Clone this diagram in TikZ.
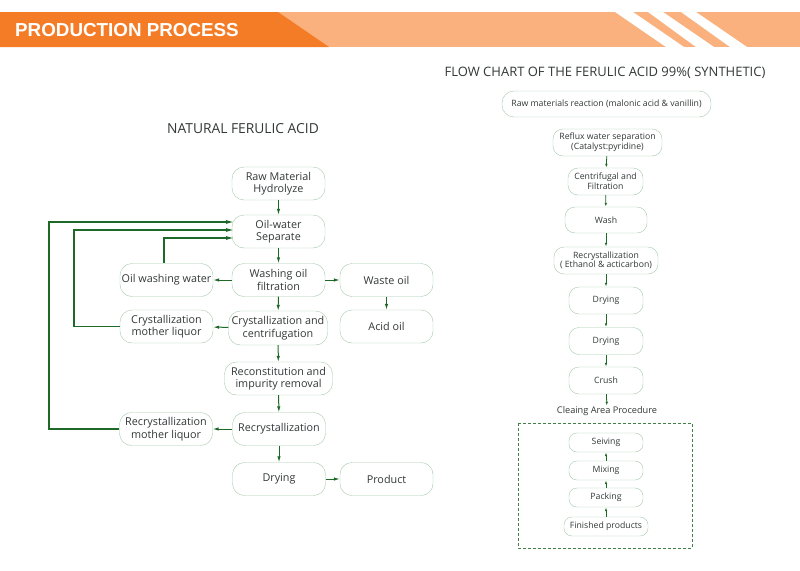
\documentclass[tikz,border=0pt]{standalone}
\usepackage{fontspec}
\setmainfont{Open Sans}
\newfontfamily\headfont{Liberation Sans}
\usetikzlibrary{arrows.meta}

\definecolor{hdark}{RGB}{245,124,38}
\definecolor{hlight}{RGB}{250,177,125}
\definecolor{lnk}{RGB}{30,105,40}
\definecolor{rim}{RGB}{165,200,170}
\definecolor{txt}{RGB}{50,55,55}

\tikzset{
  box/.style={draw=rim, rounded corners=12pt, minimum width=93pt, minimum height=33pt,
    inner sep=1pt, align=center, text=txt, font=\fontsize{10.8}{12.5}\selectfont},
  sbox/.style={draw=rim, rounded corners=10pt, minimum width=74pt, minimum height=26pt,
    inner sep=1pt, align=center, text=txt, font=\fontsize{8.7}{9.6}\selectfont},
  cbox/.style={sbox, rounded corners=8pt, minimum height=19pt},
  arr/.style={draw=lnk, -{Latex[length=6pt,width=3.5pt]}, line width=1pt},
  sarr/.style={draw=lnk, -{Latex[length=4pt,width=2.5pt]}, line width=0.8pt},
  fb/.style={draw=lnk, -{Latex[length=9pt,width=4pt]}, line width=1.5pt},
}

\begin{document}
\begin{tikzpicture}[x=1pt, y=-1pt]
    \useasboundingbox (0,0) rectangle (800,570);
    % Kopfleiste:
    \fill[hlight] (0,12) rectangle (800,47);
    \fill[hdark] (0,12) -- (278,12) -- (329,47) -- (0,47) -- cycle;
    \fill[white] (615,12) -- (633,12) -- (684,47) -- (666,47) -- cycle; % erster Streifen
    \fill[white] (648,12) -- (663,12) -- (714,47) -- (696,47) -- cycle; % zweiter Streifen
    \fill[white] (681,12) -- (696,12) -- (747,47) -- (730,47) -- cycle; % dritter Streifen
    \node[anchor=west, text=white, inner sep=0pt, font=\headfont\bfseries\fontsize{18.8}{21}\selectfont] (head) at (15,30) {PRODUCTION PROCESS};

    % linke Seite: natuerlich
    \node[text=txt, font=\fontsize{13.8}{15}\selectfont] (ltitle) at (243,129) {NATURAL FERULIC ACID};
    \node[box] (raw) at (278.5,183.5) {Raw Material\\Hydrolyze};
    \node[box] (oilw) at (278.5,231.5) {Oil-water\\Separate};
    \node[box] (wash) at (278.5,280) {Washing oil\\filtration};
    \node[box] (owater) at (166.5,280) {Oil washing water};
    \node[box] (waste) at (386.5,280) {Waste oil};
    \node[box, minimum width=99pt, minimum height=34pt] (crys) at (278,328) {Crystallization and\\centrifugation};
    \node[box] (cmother) at (166.5,326.5) {Crystallization\\mother liquor};
    \node[box] (acid) at (386.5,326.5) {Acid oil};
    \node[box, minimum width=108pt] (recon) at (278.5,378.5) {Reconstitution and\\impurity removal};
    \node[box] (rmother) at (166,429) {Recrystallization\\mother liquor};
    \node[box] (recrys) at (279,429) {Recrystallization};
    \node[box] (dry) at (279,479) {Drying};
    \node[box] (prod) at (386.5,479) {Product};

    \draw[arr] (raw) -- (oilw);
    \draw[arr] (oilw) -- (wash);
    \draw[arr] (wash) -- (owater);
    \draw[arr] (wash) -- (waste);
    \draw[arr] (waste) -- (acid);
    \draw[arr] (wash) -- (crys);
    \draw[arr] (crys) -- (cmother);
    \draw[arr] (crys) -- (recon);
    \draw[arr] (recon) -- (recrys);
    \draw[arr] (recrys) -- (rmother);
    \draw[arr] (recrys) -- (dry);
    \draw[arr] (dry) -- (prod);

    % Rueckfuehrungen:
    \coordinate (in1) at (235,222);
    \coordinate (in2) at (235,230);
    \coordinate (in3) at (235,238);
    \coordinate (c1) at (49,429);
    \coordinate (c2) at (74,326.5);
    \coordinate (c3) at (164,263);
    \draw[fb] (rmother.west) -- (c1) |- (in1);
    \draw[fb] (cmother.west) -- (c2) |- (in2);
    \draw[fb] (c3) |- (in3);

    % rechte Seite: synthetisch
    \node[text=txt, font=\fontsize{13}{14}\selectfont] (rtitle) at (605,73) {FLOW CHART OF THE FERULIC ACID 99\%( SYNTHETIC)};
    \node[sbox, minimum width=209pt, rounded corners=12pt] (rawm) at (606.5,104) {Raw materials reaction (malonic acid \& vanillin)};
    \node[sbox, minimum width=109pt, minimum height=27pt] (reflux) at (607.5,142.5) {Reflux water separation\\(Catalyst:pyridine)};
    \node[sbox, minimum width=75pt, minimum height=27pt] (centr) at (605.5,181.5) {Centrifugal and\\Filtration};
    \node[sbox, minimum width=82pt] (washr) at (606,220) {Wash};
    \node[sbox, minimum width=104pt, minimum height=27pt] (recr) at (606,260.5) {Recrystallization\\( Ethanol \& acticarbon)};
    \node[sbox, minimum height=27pt] (dry1) at (606,300.5) {Drying};
    \node[sbox, minimum height=27pt] (dry2) at (606,341) {Drying};
    \node[sbox, minimum height=27pt] (crush) at (606,380.5) {Crush};
    \node[text=txt, font=\fontsize{9.2}{10}\selectfont, inner sep=1pt] (clean) at (607,411.5) {Cleaing Area Procedure};

    \draw[sarr] (reflux) -- (centr);
    \draw[sarr] (centr) -- (washr);
    \draw[sarr] (washr) -- (recr);
    \draw[sarr] (recr) -- (dry1);
    \draw[sarr] (dry1) -- (dry2);
    \draw[sarr] (dry2) -- (crush);
    \draw[sarr] (crush) -- (clean);

    % Reinraum:
    \draw[lnk!85, dashed, dash pattern=on 3pt off 2pt, line width=0.9pt] (518,423) rectangle (692,548);
    \node[cbox] (seiv) at (606,442.5) {Seiving};
    \node[cbox] (mix) at (606,470.5) {Mixing};
    \node[cbox] (pack) at (606,497.5) {Packing};
    \node[cbox, minimum width=84pt] (fin) at (606,526.5) {Finished products};
    \draw[sarr] (mix) -- (seiv);
    \draw[sarr] (pack) -- (mix);
    \draw[sarr] (fin) -- (pack);
\end{tikzpicture}
\end{document}
